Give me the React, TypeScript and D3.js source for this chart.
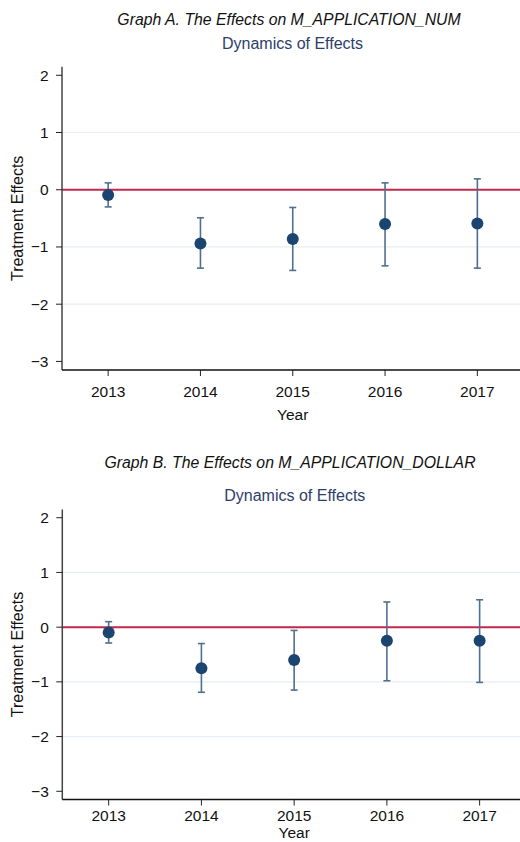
import React from 'react';
import * as d3 from 'd3';

// data
const years = [2013, 2014, 2015, 2016, 2017];
const yTicks = [-3, -2, -1, 0, 1, 2];
const gridTicks = [-2, -1, 1];

const numEst = [-0.09, -0.94, -0.86, -0.6, -0.59];
const numLo = [-0.3, -1.37, -1.41, -1.33, -1.37];
const numHi = [0.12, -0.49, -0.31, 0.12, 0.19];

const dolEst = [-0.1, -0.75, -0.6, -0.25, -0.25];
const dolLo = [-0.29, -1.19, -1.15, -0.98, -1.01];
const dolHi = [0.1, -0.3, -0.06, 0.46, 0.5];

const FONT = "'Liberation Sans', Arial, Helvetica, sans-serif";
const fmt = d3.format('d');

type PanelProps = {
  title: string;
  est: number[];
  lo: number[];
  hi: number[];
  left: number;
  right: number;
  top: number;
  bottom: number;
  titleX: number;
  titleY: number;
  subX: number;
  subY: number;
  tickY: number;
  labelY: number;
};

const Panel = (p: PanelProps) => {
  const { est, lo, hi, left, right, top, bottom } = p;
  const x = d3.scaleLinear().domain([2012.5, 2017.5]).range([left, right]);
  const y = d3.scaleLinear().domain([-3.15, 2.15]).range([bottom, top]);

  return (
    <g fontFamily={FONT}>
      <text x={p.titleX} y={p.titleY} textAnchor="middle" fontSize={15.8} fontStyle="italic" fill="#111">
        {p.title}
      </text>
      <text x={p.subX} y={p.subY} textAnchor="middle" fontSize={16} fill="#2d3e6b">
        Dynamics of Effects
      </text>

      {gridTicks.map(t => (
        <line key={t} x1={left} x2={520} y1={y(t)} y2={y(t)} stroke="#e8eef3" strokeWidth={1.2} />
      ))}
      <line x1={left} x2={520} y1={y(0)} y2={y(0)} stroke="#c0284c" strokeWidth={2} />

      {/* y axis */}
      <line x1={left} x2={left} y1={top} y2={bottom} stroke="#444" strokeWidth={1.5} />
      {yTicks.map(t => (
        <g key={t}>
          <line x1={left - 6} x2={left} y1={y(t)} y2={y(t)} stroke="#222" />
          <text x={left - 13.5} y={y(t)} dy="0.35em" textAnchor="end" fontSize={15.5} fill="#111">
            {fmt(t).replace('-', '\u2212')}
          </text>
        </g>
      ))}
      <text
        transform={`translate(${17},${(top + bottom) / 2}) rotate(-90)`}
        textAnchor="middle"
        dy="0.35em"
        fontSize={16}
        fill="#111"
      >
        Treatment Effects
      </text>

      {/* x axis */}
      <line x1={left} x2={520} y1={bottom} y2={bottom} stroke="#111" strokeWidth={1.5} />
      {years.map(yr => (
        <g key={yr}>
          <line x1={x(yr)} x2={x(yr)} y1={bottom} y2={bottom + 6} stroke="#222" />
          <text x={x(yr)} y={p.tickY} textAnchor="middle" fontSize={15.5} fill="#111">
            {fmt(yr)}
          </text>
        </g>
      ))}
      <text x={x(2015)} y={p.labelY} textAnchor="middle" fontSize={15.5} fill="#111">
        Year
      </text>

      {/* confidence intervals */}
      {years.map((yr, i) => (
        <g key={'ci' + yr} stroke="#4f6f90" strokeWidth={1.6}>
          <line x1={x(yr)} x2={x(yr)} y1={y(lo[i])} y2={y(hi[i])} />
          <line x1={x(yr) - 3.5} x2={x(yr) + 3.5} y1={y(lo[i])} y2={y(lo[i])} />
          <line x1={x(yr) - 3.5} x2={x(yr) + 3.5} y1={y(hi[i])} y2={y(hi[i])} />
        </g>
      ))}
      {years.map((yr, i) => (
        <circle key={'p' + yr} cx={x(yr)} cy={y(est[i])} r={6} fill="#1b4470" />
      ))}
    </g>
  );
};

export default function App() {
  return (
    <svg
      width={520}
      height={842}
      style={{ position: 'absolute', left: 0, top: 0, background: '#fff' }}
    >
      <rect width={520} height={842} fill="#fff" />
      <Panel
        title="Graph A. The Effects on M_APPLICATION_NUM"
        est={numEst}
        lo={numLo}
        hi={numHi}
        left={62}
        right={523.5}
        top={66.7}
        bottom={370}
        titleX={289}
        titleY={24.5}
        subX={292.5}
        subY={48.5}
        tickY={397}
        labelY={419.5}
      />
      <Panel
        title="Graph B. The Effects on M_APPLICATION_DOLLAR"
        est={dolEst}
        lo={dolLo}
        hi={dolHi}
        left={62.3}
        right={526}
        top={509.5}
        bottom={799.5}
        titleX={290}
        titleY={468}
        subX={294.8}
        subY={500.5}
        tickY={820.5}
        labelY={837.5}
      />
    </svg>
  );
}
